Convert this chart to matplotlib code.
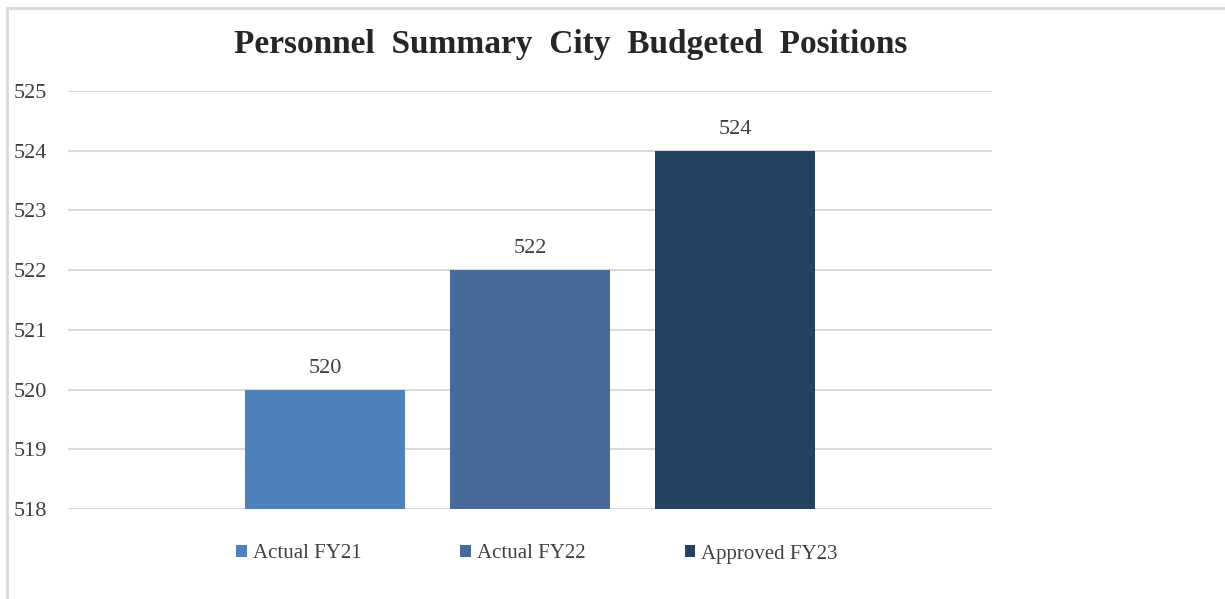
import matplotlib
matplotlib.use("Agg")
import matplotlib.pyplot as plt
from matplotlib.patches import Patch, Rectangle

series = ["Actual FY21", "Actual FY22", "Approved FY23"]
values = [520, 522, 524]
colors = ["#4F81BD", "#466A9A", "#254061"]
yticks = [518, 519, 520, 521, 522, 523, 524, 525]

plt.rcParams["font.family"] = ["Liberation Serif", "DejaVu Serif"]

fig = plt.figure(figsize=(12.25, 5.99), dpi=100)
ax = fig.add_axes([68 / 1225, 1 - 509 / 599, 924 / 1225, 418 / 599])

x = list(range(len(series)))
ax.bar(x, [v - 518 for v in values], bottom=518, width=0.78, color=colors, zorder=3)
for xi, v in zip(x, values):
    ax.text(xi, v + 0.2, f"{v}", ha="center", va="bottom", fontsize=16, color="#404040")

ax.set_ylim(518, 525)
ax.set_xlim(-1.254, 3.254)
ax.set_yticks(yticks)
ax.set_yticklabels([str(t) for t in yticks], fontsize=16, color="#404040")
ax.set_xticks([])
ax.tick_params(axis="y", length=0, pad=15)
ax.yaxis.grid(True, color="#d9d9d9", linewidth=1.5, zorder=0)
for s in ax.spines.values():
    s.set_visible(False)

fig.text(571 / 1225, 1 - 44 / 599, "Personnel  Summary  City  Budgeted  Positions",
         ha="center", va="center", fontsize=24, fontweight="bold", color="#262626")

handles = [Patch(facecolor=c, edgecolor="none") for c in colors]
fig.legend(handles, series, loc="center", bbox_to_anchor=(537 / 1225, 1 - 554 / 599),
           ncol=3, frameon=False, fontsize=15, handlelength=0.5, handleheight=0.5,
           handletextpad=0.3, columnspacing=4.75, labelcolor="#404040")

fig.patches.append(Rectangle((7 / 1225, -0.1), 1.2, 1.1 - 8 / 599, transform=fig.transFigure,
                             fill=False, edgecolor="#d9d9d9", linewidth=2))

fig.savefig("out.png", dpi=100, facecolor="white")
